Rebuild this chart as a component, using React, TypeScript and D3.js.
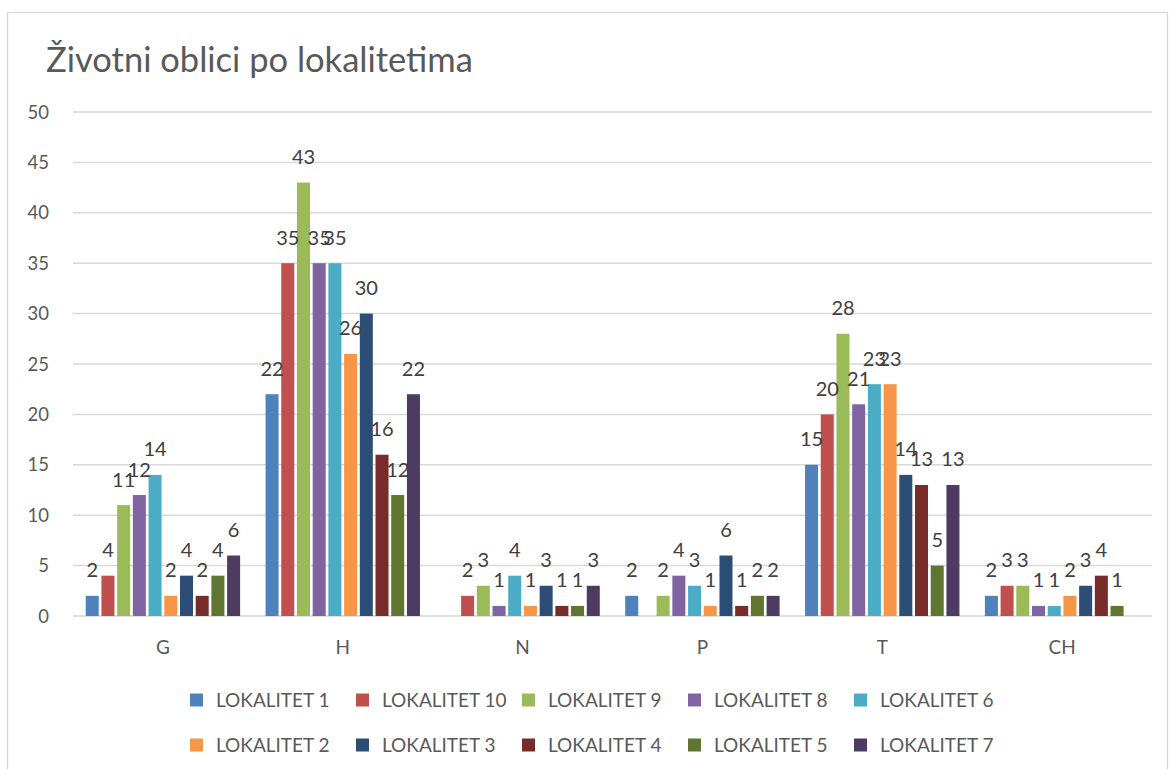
import { useEffect, useRef } from "react";
import * as d3 from "d3";

// categories (life forms) and series (localities)
const categories = ["G", "H", "N", "P", "T", "CH"];
const seriesNames = [
  "LOKALITET 1",
  "LOKALITET 10",
  "LOKALITET 9",
  "LOKALITET 8",
  "LOKALITET 6",
  "LOKALITET 2",
  "LOKALITET 3",
  "LOKALITET 4",
  "LOKALITET 5",
  "LOKALITET 7",
];
const colors = [
  "#4F81BD", "#C0504D", "#9BBB59", "#8064A2", "#4BACC6",
  "#F79646", "#2C4D75", "#772C2A", "#5F7530", "#4D3B62",
];

// values per category, in series order (null = no bar)
const valuesG = [2, 4, 11, 12, 14, 2, 4, 2, 4, 6];
const valuesH = [22, 35, 43, 35, 35, 26, 30, 16, 12, 22];
const valuesN = [null, 2, 3, 1, 4, 1, 3, 1, 1, 3];
const valuesP = [2, null, 2, 4, 3, 1, 6, 1, 2, 2];
const valuesT = [15, 20, 28, 21, 23, 23, 14, 13, 5, 13];
const valuesCH = [2, 3, 3, 1, 1, 2, 3, 4, 1, null];
const yTicks = [0, 5, 10, 15, 20, 25, 30, 35, 40, 45, 50];

const allValues = [valuesG, valuesH, valuesN, valuesP, valuesT, valuesCH];

const W = 1170;
const H = 769;
const FONT = "Lato, 'Open Sans', sans-serif";

const App = () => {
  const svgRef = useRef<SVGSVGElement>(null);

  useEffect(() => {
    const svg = d3.select(svgRef.current);
    svg.selectAll("*").remove();

    const left = 73;
    const right = 1152;
    const top = 112;
    const bottom = 616;

    // chart frame
    svg
      .append("rect")
      .attr("x", 7.5)
      .attr("y", 12.5)
      .attr("width", 1160)
      .attr("height", 780)
      .attr("fill", "#fff")
      .attr("stroke", "#D9D9D9")
      .attr("stroke-width", 1.3);

    svg
      .append("text")
      .attr("x", 46)
      .attr("y", 72)
      .attr("font-family", FONT)
      .attr("font-size", 34.5)
      .attr("fill", "#595959")
      .text("Životni oblici po lokalitetima");

    const x0 = d3.scaleBand().domain(categories).range([left, right]).padding(0);
    const x1 = d3
      .scaleBand()
      .domain(seriesNames)
      .range([0, x0.bandwidth()])
      .paddingInner(0.172)
      .paddingOuter(0.81);
    const y = d3.scaleLinear().domain([0, 50]).range([bottom, top]);

    // gridlines
    svg
      .append("g")
      .selectAll("line")
      .data(yTicks)
      .enter()
      .append("line")
      .attr("x1", left)
      .attr("x2", right)
      .attr("y1", (d) => y(d))
      .attr("y2", (d) => y(d))
      .attr("stroke", "#D9D9D9")
      .attr("stroke-width", 1.5);

    // y tick labels
    svg
      .append("g")
      .selectAll("text")
      .data(yTicks)
      .enter()
      .append("text")
      .attr("x", 49)
      .attr("y", (d) => y(d))
      .attr("dy", "0.36em")
      .attr("text-anchor", "end")
      .attr("font-family", FONT)
      .attr("font-size", 18.5)
      .attr("fill", "#595959")
      .text((d) => d);

    // x category labels
    svg
      .append("g")
      .selectAll("text")
      .data(categories)
      .enter()
      .append("text")
      .attr("x", (d) => x0(d)! + x0.bandwidth() / 2)
      .attr("y", 654)
      .attr("text-anchor", "middle")
      .attr("font-family", FONT)
      .attr("font-size", 19)
      .attr("fill", "#595959")
      .text((d) => d);

    const cells: { cat: string; s: string; i: number; v: number }[] = [];
    categories.forEach((cat, ci) => {
      allValues[ci].forEach((v, i) => {
        if (v != null) cells.push({ cat, s: seriesNames[i], i, v });
      });
    });

    svg
      .append("g")
      .selectAll("rect")
      .data(cells)
      .enter()
      .append("rect")
      .attr("x", (d) => x0(d.cat)! + x1(d.s)!)
      .attr("y", (d) => y(d.v))
      .attr("width", x1.bandwidth())
      .attr("height", (d) => bottom - y(d.v))
      .attr("fill", (d) => colors[d.i]);

    svg
      .append("g")
      .selectAll("text")
      .data(cells)
      .enter()
      .append("text")
      .attr("x", (d) => x0(d.cat)! + x1(d.s)! + x1.bandwidth() / 2)
      .attr("y", (d) => y(d.v) - 18.5)
      .attr("text-anchor", "middle")
      .attr("font-family", FONT)
      .attr("font-size", 20)
      .attr("fill", "#404040")
      .text((d) => d.v);

    // legend, two rows of five
    const legend = svg
      .append("g")
      .selectAll("g")
      .data(seriesNames)
      .enter()
      .append("g")
      .attr(
        "transform",
        (d, i) => `translate(${190 + (i % 5) * 166},${i < 5 ? 700 : 745})`
      );
    legend
      .append("rect")
      .attr("x", 0)
      .attr("y", -6.5)
      .attr("width", 13)
      .attr("height", 13)
      .attr("fill", (d, i) => colors[i]);
    legend
      .append("text")
      .attr("x", 26)
      .attr("y", 0)
      .attr("dy", "0.36em")
      .attr("font-family", FONT)
      .attr("font-size", 19)
      .attr("fill", "#595959")
      .text((d) => d);
  }, []);

  return (
    <svg
      ref={svgRef}
      width={W}
      height={H}
      style={{ position: "absolute", left: 0, top: 0 }}
    ></svg>
  );
};

export default App;
